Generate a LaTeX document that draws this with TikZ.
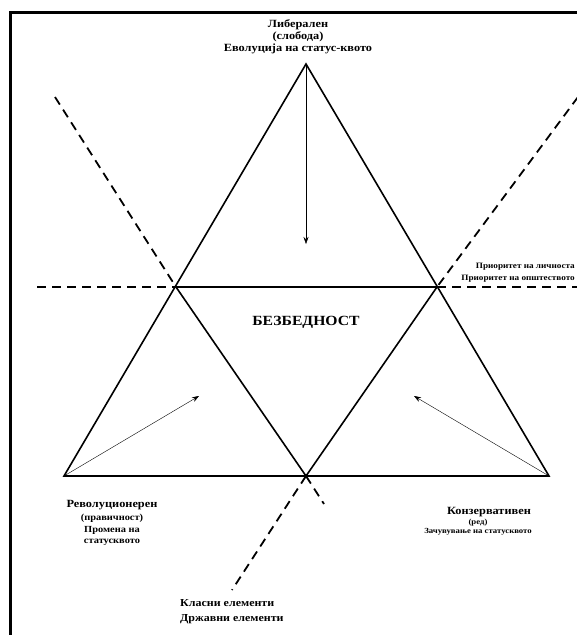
\documentclass[tikz,border=0pt]{standalone}
\usepackage{fontspec}
\setmainfont[FakeStretch=1.12]{Liberation Serif}
\usetikzlibrary{arrows.meta}
\tikzstyle{edge}=[line width=1.6pt, line join=miter]
\tikzstyle{dsh}=[line width=1.8pt, dash pattern=on 9pt off 6pt]
\tikzstyle{arr}=[thin, -{Stealth[length=7pt, width=5pt]}]
\tikzstyle{lbl}=[font=\bfseries\fontsize{11}{12}\selectfont, align=center, inner sep=0pt]
\tikzstyle{sml}=[font=\bfseries\fontsize{9.3}{11.5}\selectfont, inner sep=0pt]

\begin{document}
\begin{tikzpicture}[x=1pt, y=-1pt]
\useasboundingbox (0,0) rectangle (577,635);

% frame
\draw[line width=3pt] (10,640) -- (10,12) -- (582,12);

% corner points of the triangles
\coordinate (top) at (306,64);
\coordinate (lm) at (176,287);
\coordinate (rm) at (437,287);
\coordinate (lb) at (64,476);
\coordinate (bm) at (306,476);
\coordinate (rb) at (549,476);

% free ends of the dashed lines
\coordinate (dtl) at (55,97);
\coordinate (dtr) at (578,97);
\coordinate (dhl) at (37,287);
\coordinate (dhr) at (580,287);
\coordinate (dbl) at (232,590);
\coordinate (dbr) at (324,504);

% arrow ends
\coordinate (atop) at (306,244);
\coordinate (aleft) at (199,396);
\coordinate (aright) at (414,396);

\draw[edge] (lb) -- (top) -- (rb) -- cycle;
\draw[edge] (lm) -- (rm);
\draw[edge] (lm) -- (bm) -- (rm);

\draw[dsh] (dtl) -- (lm);
\draw[dsh] (dtr) -- (rm);
\draw[dsh] (dhl) -- (lm);
\draw[dsh] (rm) -- (dhr);
\draw[dsh] (bm) -- (dbl);
\draw[dsh] (bm) -- (dbr);

\draw[arr] (top) -- (atop);
\draw[arr] (lb) -- (aleft);
\draw[arr] (rb) -- (aright);

% labels
\node[lbl] (lib) at (298,37) {Либерален\\(слобода)\\Еволуција на статус-квото};
\node[font=\bfseries\fontsize{14}{16}\selectfont, inner sep=0pt] (bez) at (306,322) {БЕЗБЕДНОСТ};
\node[sml, anchor=east, font=\bfseries\fontsize{8.2}{10}\selectfont] (pri1) at (575,267) {Приоритет на личноста};
\node[sml, anchor=east, font=\bfseries\fontsize{8.2}{10}\selectfont] (pri2) at (575,279) {Приоритет на општеството};
\node[lbl] (rev) at (112,505) {Револуционерен};
\node[sml, align=center] (rev2) at (112,530) {(правичност)\\Промена на\\статусквото};
\node[lbl] (kon) at (489,512) {Конзервативен};
\node[sml, align=center, font=\bfseries\fontsize{7.8}{9.5}\selectfont] (kon2) at (478,527) {(ред)\\Зачувување на статусквото};
\node[lbl, align=left, anchor=west, font=\bfseries\fontsize{10.7}{15}\selectfont] (kla) at (180,612) {Класни елементи\\Државни елементи};

\end{tikzpicture}
\end{document}
